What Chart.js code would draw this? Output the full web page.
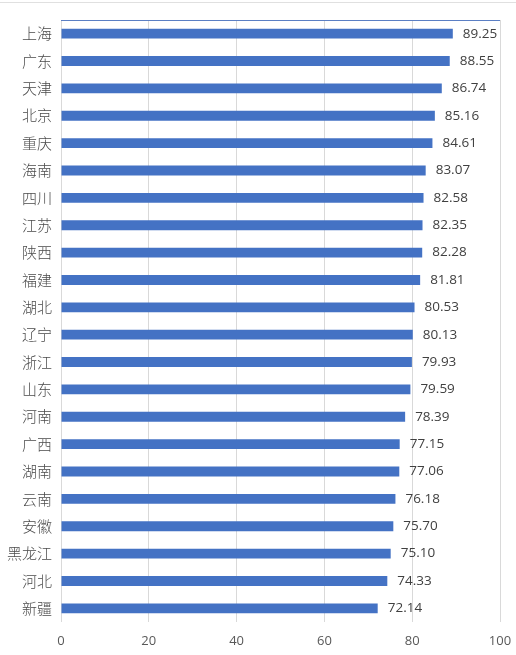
<!DOCTYPE html>
<html>
<head>
<meta charset="utf-8">
<script src="https://cdn.jsdelivr.net/npm/chart.js@4/dist/chart.umd.min.js"></script>
<style>
  html, body { margin: 0; padding: 0; background: #fff; }
  #wrap { position: relative; width: 516px; height: 655px; }
</style>
</head>
<body>
<div id="wrap"><canvas id="barChart"></canvas></div>
<script>
// Provinces and scores, top to bottom
const provinces = ['上海', '广东', '天津', '北京', '重庆', '海南', '四川', '江苏', '陕西', '福建', '湖北',
    '辽宁', '浙江', '山东', '河南', '广西', '湖南', '云南', '安徽', '黑龙江', '河北', '新疆'];
const scores = [89.25, 88.55, 86.74, 85.16, 84.61, 83.07, 82.58, 82.35, 82.28, 81.81, 80.53,
    80.13, 79.93, 79.59, 78.39, 77.15, 77.06, 76.18, 75.70, 75.10, 74.33, 72.14];
const xTicks = [0, 20, 40, 60, 80, 100];

// value labels at the end of each bar
const valueLabels = {
    id: 'valueLabels',
    afterDatasetsDraw(chart) {
        const ctx = chart.ctx;
        const meta = chart.getDatasetMeta(0);
        ctx.save();
        ctx.font = '13.5px "Open Sans", "Liberation Sans", sans-serif';
        ctx.fillStyle = '#404040';
        ctx.textAlign = 'left';
        ctx.textBaseline = 'middle';
        meta.data.forEach((bar, i) => {
            ctx.fillText(scores[i].toFixed(2), bar.x + 10, bar.y);
        });
        ctx.restore();
    }
};

// blue line along the top of the plot area
const topLine = {
    id: 'topLine',
    afterDraw(chart) {
        const { ctx, chartArea } = chart;
        ctx.save();
        ctx.strokeStyle = '#5b7fc4';
        ctx.lineWidth = 1;
        ctx.beginPath();
        ctx.moveTo(chartArea.left, chartArea.top + 0.5);
        ctx.lineTo(chartArea.right, chartArea.top + 0.5);
        ctx.stroke();
        // faint outer frame
        ctx.strokeStyle = '#e0e0e0';
        ctx.beginPath();
        ctx.moveTo(0, 2.5);
        ctx.lineTo(chart.width, 2.5);
        ctx.stroke();
        ctx.restore();
    }
};

const ctx = document.getElementById('barChart');
new Chart(ctx, {
    type: 'bar',
    data: {
        labels: provinces,
        datasets: [{
            data: scores,
            backgroundColor: '#4472c4',
            barPercentage: 0.72,
            categoryPercentage: 0.5
        }]
    },
    options: {
        indexAxis: 'y',
        responsive: true,
        maintainAspectRatio: false,
        animation: false,
        layout: { padding: { top: 20, right: 16, left: 0, bottom: 0 } },
        plugins: {
            legend: { display: false },
            tooltip: { enabled: false }
        },
        scales: {
            x: {
                min: 0,
                max: 100,
                afterBuildTicks: axis => { axis.ticks = xTicks.map(v => ({ value: v })); },
                afterFit: axis => {
                    axis.height = 33;
                    axis.paddingLeft = 0;
                    axis.paddingRight = 0;
                },
                grid: { color: '#d9d9d9', drawTicks: false },
                border: { display: false },
                ticks: {
                    padding: 11,
                    color: '#595959',
                    font: { size: 13, family: '"Open Sans", "Liberation Sans", sans-serif' }
                }
            },
            y: {
                afterFit: axis => { axis.width = 61; },
                grid: { display: false, drawTicks: false },
                border: { display: false },
                ticks: {
                    padding: 9,
                    color: '#4a4a4a',
                    font: { size: 15, family: '"Noto Sans CJK SC", sans-serif', weight: 300 }
                }
            }
        }
    },
    plugins: [valueLabels, topLine]
});
</script>
</body>
</html>
